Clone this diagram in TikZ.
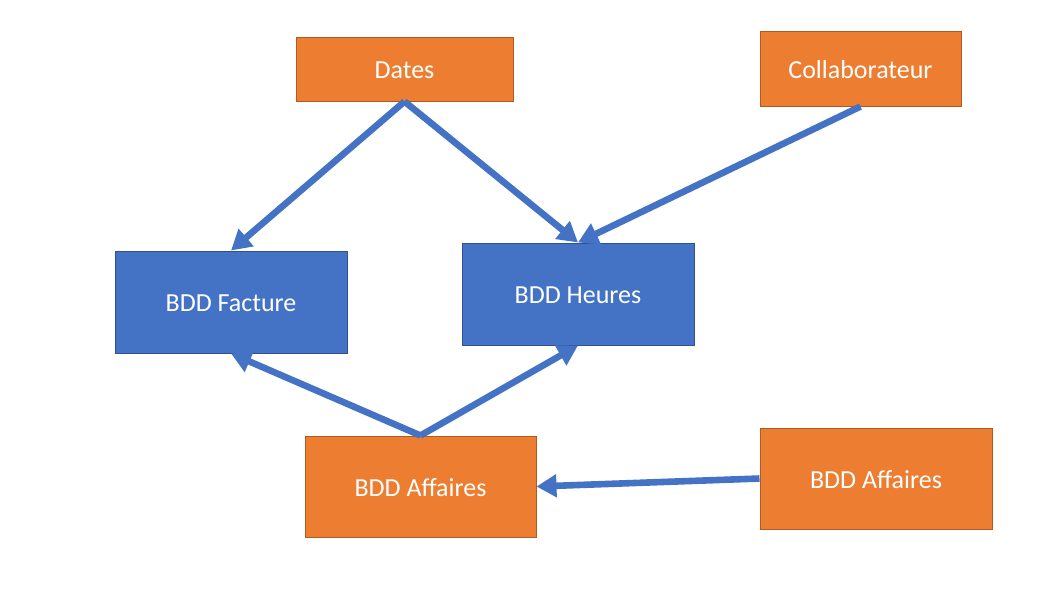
\documentclass[tikz,border=0pt]{standalone}
\usepackage{fontspec}
\setmainfont{Carlito}
\usetikzlibrary{arrows.meta}
\definecolor{orangefill}{HTML}{ED7D31}
\definecolor{orangeline}{HTML}{AE5A21}
\definecolor{bluefill}{HTML}{4472C4}
\definecolor{blueline}{HTML}{2F528F}
\begin{document}
\begin{tikzpicture}[x=0.5pt, y=-0.5pt,
  >={Triangle[length=10pt, width=11pt]},
  srcbox/.style={draw=orangeline, fill=orangefill, line width=0.5pt, text=white, inner sep=0pt, text height=9.6pt, text depth=0pt, font=\fontsize{13pt}{15pt}\selectfont},
  bddbox/.style={draw=blueline, fill=bluefill, line width=0.5pt, text=white, inner sep=0pt, text height=9.6pt, text depth=0pt, font=\fontsize{13pt}{15pt}\selectfont},
  link/.style={->, draw=bluefill, line width=3.3pt}]
\useasboundingbox (0,0) rectangle (1050,602);
% sources
\node[srcbox, minimum width=108.5pt, minimum height=32pt]   (dates)  at (404.5, 69)   {Dates};
\node[srcbox, minimum width=100.5pt, minimum height=37.5pt] (collab) at (860.5, 68.5) {Collaborateur};
% databases
\node[bddbox, minimum width=116pt, minimum height=51pt] (facture) at (231, 302) {BDD Facture};
\node[bddbox, minimum width=116pt, minimum height=51pt] (heures)  at (578, 294) {BDD Heures};
\node[srcbox, minimum width=115.5pt, minimum height=50.5pt] (aff)    at (420.5, 486.5) {BDD Affaires};
\node[srcbox, minimum width=116pt, minimum height=50.5pt]   (affext) at (876, 478.5)   {BDD Affaires};
% links
\draw[link] (dates.south) -- (facture.north);
\draw[link] (dates.south) -- (heures.north);
\draw[link] (collab.south) -- (heures.north);
\draw[link] (aff.north) -- (facture.south);
\draw[link] (aff.north) -- (heures.south);
\draw[link] (affext.west) -- (aff.east);
\end{tikzpicture}
\end{document}
